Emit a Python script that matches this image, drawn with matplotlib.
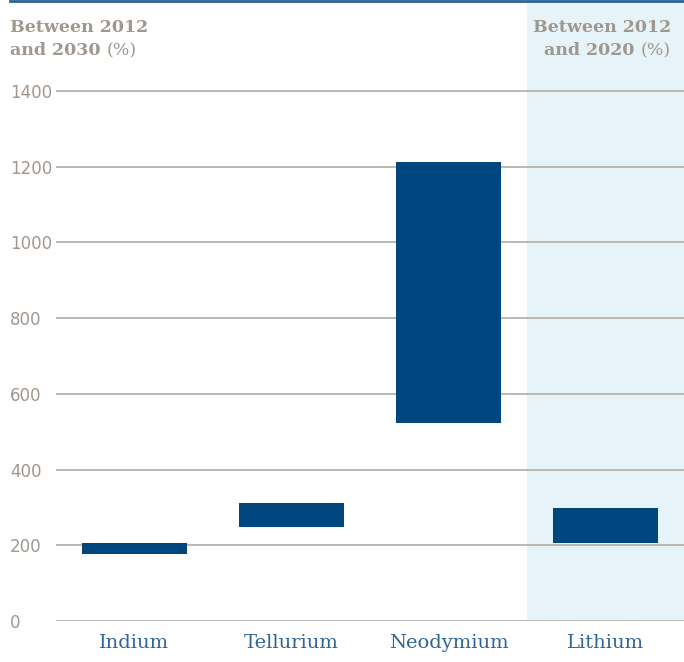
import matplotlib
matplotlib.use("Agg")
import matplotlib.pyplot as plt
from matplotlib.patches import Rectangle
from matplotlib.lines import Line2D

categories = ["Indium", "Tellurium", "Neodymium", "Lithium"]
low_values = [178, 249, 524, 207]
high_values = [206, 312, 1212, 298]
yticks = [0, 200, 400, 600, 800, 1000, 1200, 1400]

BAR = "#00467f"
GRID = "#b3aca4"
TICK = "#a0978e"
CAT = "#2f6496"
SHADE = "#e6f4f9"
TOPLINE = "#2a6296"

W, H = 684, 662
fig = plt.figure(figsize=(W / 100, H / 100), dpi=100)

# axes: x from 56 to 684 px, y from 2 to 621 px
ax_left, ax_right = 56 / W, 1.0
ax_bottom, ax_top = (H - 621) / H, (H - 2) / H
ax = fig.add_axes([ax_left, ax_bottom, ax_right - ax_left, ax_top - ax_bottom])
px_per_unit = (621 - 91) / 1400
ymax = (621 - 2) / px_per_unit
ax.set_xlim(-0.5, len(categories) - 0.5)
ax.set_ylim(0, ymax)

for s in ax.spines.values():
    s.set_visible(False)

# shaded region for Lithium
ax.add_patch(Rectangle((2.5, 0), 1.0, ymax, facecolor=SHADE, edgecolor="none", zorder=0))

for y in yticks:
    ax.axhline(y, color=GRID, lw=1.2, zorder=1)

x = list(range(len(categories)))
heights = [h - l for l, h in zip(low_values, high_values)]
ax.bar(x, heights, bottom=low_values, width=0.675, color=BAR, zorder=3)

ax.set_yticks(yticks)
ax.set_yticklabels([str(v) for v in yticks], fontsize=12, color=TICK,
                   family="DejaVu Sans")
ax.tick_params(axis="y", length=0, pad=46 * 72 / 100)
for lab in ax.get_yticklabels():
    lab.set_horizontalalignment("left")

ax.set_xticks(x)
ax.set_xticklabels(categories, fontsize=14, color=CAT, family="DejaVu Serif")
ax.tick_params(axis="x", length=0, pad=9)

# top blue line
fig.add_artist(Line2D([10 / W, 1.0], [1 - 1 / H, 1 - 1 / H], color=TOPLINE, lw=2,
                      transform=fig.transFigure))

# titles
tkw = dict(fontsize=12.5, color=TICK, family="DejaVu Serif", transform=fig.transFigure)
fig.text(10 / W, 1 - 32 / H, "Between 2012", fontweight="bold", ha="left", va="baseline", **tkw)
t2 = fig.text(10 / W, 1 - 55 / H, "and 2030 ", fontweight="bold", ha="left", va="baseline", **tkw)
fig.canvas.draw()
bb = t2.get_window_extent()
fig.text(bb.x1 / W, 1 - 55 / H, "(%)", fontweight="normal", ha="left", va="baseline", **tkw)

fig.text(671 / W, 1 - 32 / H, "Between 2012", fontweight="bold", ha="right", va="baseline", **tkw)
p = fig.text(671 / W, 1 - 55 / H, "(%)", fontweight="normal", ha="right", va="baseline", **tkw)
fig.canvas.draw()
bb = p.get_window_extent()
fig.text(bb.x0 / W, 1 - 55 / H, "and 2020 ", fontweight="bold", ha="right", va="baseline", **tkw)

fig.savefig("out.png", dpi=100)
